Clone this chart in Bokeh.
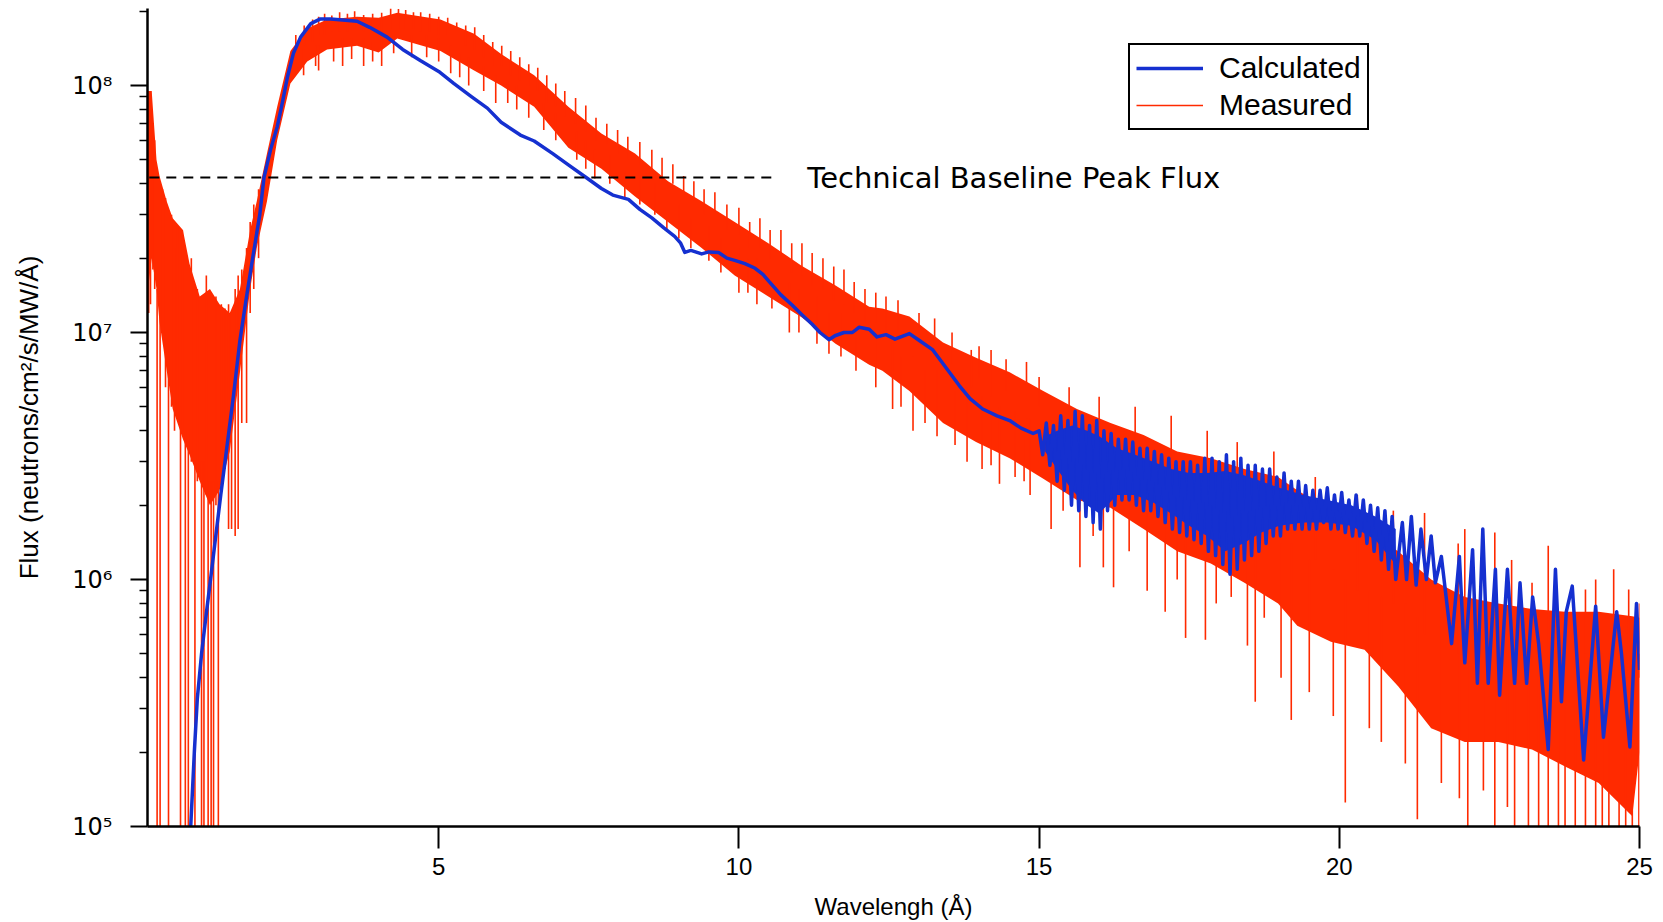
from bokeh.plotting import figure
from bokeh.models import (Range1d, FixedTicker, CustomJSTickFormatter, Legend,
                          LegendItem, ColumnDataSource)
from bokeh.core.properties import value
from bokeh.embed import file_html
from bokeh.resources import INLINE

# ---------------- data ----------------
# Calculated spectrum (blue)
calc_x = [0.87, 0.93, 0.98, 1.05, 1.13, 1.20, 1.28, 1.37, 1.47, 1.58, 1.69, 1.80, 1.91, 2.02, 2.09,
          2.20, 2.31, 2.40, 2.48, 2.58, 2.70, 2.87, 3.03, 3.20, 3.40, 3.64, 3.85, 4.14, 4.40, 4.70,
          5.00, 5.25, 5.55, 5.81, 6.04, 6.36, 6.59, 6.90, 7.16, 7.45, 7.71, 7.90, 8.16, 8.35, 8.55,
          8.75, 8.93, 9.03, 9.10, 9.20, 9.38, 9.50, 9.66, 9.80, 9.93, 10.10, 10.27, 10.40, 10.50,
          10.70, 10.89, 11.05, 11.22, 11.35, 11.50, 11.60, 11.75, 11.89, 12.00, 12.17, 12.30, 12.45,
          12.60, 12.84, 13.00, 13.23, 13.45, 13.67, 13.85, 14.06, 14.30, 14.51, 14.70, 14.90,
          15.00, 15.06, 15.12, 15.18, 15.24, 15.30, 15.36, 15.42, 15.48, 15.54, 15.60, 15.66, 15.72,
          15.78, 15.84, 15.90, 15.96, 16.02, 16.08, 16.14, 16.20, 16.26, 16.32, 16.38, 16.44, 16.50,
          16.56, 16.62, 16.68, 16.74, 16.80, 16.86, 16.92, 16.98, 17.04, 17.10, 17.16, 17.22, 17.28,
          17.34, 17.40, 17.46, 17.52, 17.58, 17.64, 17.70, 17.76, 17.82, 17.88, 17.94, 18.00, 18.06,
          18.12, 18.18, 18.24, 18.30, 18.36, 18.42, 18.48, 18.54, 18.60, 18.66, 18.72, 18.78, 18.84,
          18.90, 18.96, 19.02, 19.08, 19.14, 19.20, 19.26, 19.32, 19.38, 19.44, 19.50, 19.56, 19.62,
          19.68, 19.74, 19.80, 19.86, 19.92, 19.98, 20.04, 20.10, 20.16, 20.22, 20.28, 20.34, 20.40,
          20.46, 20.52, 20.58, 20.64, 20.70, 20.76, 20.82, 20.88, 20.94,
          21.05, 21.12, 21.20, 21.28, 21.36, 21.45, 21.53, 21.60, 21.70, 21.87, 22.00, 22.09, 22.22,
          22.30, 22.39, 22.48, 22.60, 22.67, 22.80, 22.92, 23.01, 23.12, 23.22, 23.32, 23.48, 23.60,
          23.70, 23.78, 23.88, 24.07, 24.27, 24.40, 24.62, 24.70, 24.84, 24.95, 25.00]
calc_y = [1.0e5, 2.0e5, 3.3e5, 5.0e5, 7.3e5, 1.0e6, 1.45e6, 2.2e6, 3.4e6, 5.5e6, 9.3e6, 1.4e7, 2.06e7, 3.0e7, 4.24e7,
          5.5e7, 6.8e7, 8.6e7, 1.08e8, 1.35e8, 1.57e8, 1.78e8, 1.86e8, 1.86e8, 1.84e8, 1.82e8, 1.72e8, 1.57e8, 1.40e8, 1.26e8,
          1.14e8, 1.02e8, 9.0e7, 8.1e7, 7.1e7, 6.3e7, 5.96e7, 5.3e7, 4.77e7, 4.25e7, 3.83e7, 3.6e7, 3.46e7, 3.15e7, 2.91e7,
          2.65e7, 2.45e7, 2.3e7, 2.11e7, 2.15e7, 2.08e7, 2.12e7, 2.11e7, 2.0e7, 1.96e7, 1.9e7, 1.82e7, 1.72e7, 1.61e7,
          1.42e7, 1.29e7, 1.18e7, 1.08e7, 1.0e7, 9.35e6, 9.7e6, 1.0e7, 1.0e7, 1.05e7, 1.03e7, 9.6e6, 9.8e6,
          9.4e6, 9.9e6, 9.3e6, 8.5e6, 7.2e6, 6.1e6, 5.4e6, 4.9e6, 4.6e6, 4.4e6, 4.1e6, 3.9e6,
          4.0e6, 3.2e6, 4.3e6, 2.9e6, 4.2e6, 2.5e6, 4.6e6, 2.3e6, 4.4e6, 2.0e6, 4.8e6, 1.9e6, 4.6e6,
          1.8e6, 4.2e6, 1.7e6, 4.4e6, 1.6e6, 4.0e6, 1.9e6, 3.9e6, 2.0e6, 3.7e6, 2.1e6, 3.7e6, 2.1e6,
          3.6e6, 2.0e6, 3.4e6, 1.9e6, 3.4e6, 1.9e6, 3.3e6, 1.8e6, 3.2e6, 1.7e6, 3.1e6, 1.6e6, 3.0e6,
          1.55e6, 3.0e6, 1.5e6, 3.0e6, 1.45e6, 2.9e6, 1.4e6, 3.1e6, 1.3e6, 3.1e6, 1.25e6, 3.0e6, 1.15e6,
          3.2e6, 1.05e6, 3.0e6, 1.1e6, 3.1e6, 1.2e6, 2.9e6, 1.25e6, 2.9e6, 1.3e6, 2.8e6, 1.4e6, 2.8e6,
          1.5e6, 2.6e6, 1.5e6, 2.7e6, 1.6e6, 2.5e6, 1.6e6, 2.5e6, 1.6e6, 2.4e6, 1.6e6, 2.3e6, 1.6e6,
          2.3e6, 1.7e6, 2.35e6, 1.6e6, 2.2e6, 1.6e6, 2.25e6, 1.55e6, 2.1e6, 1.5e6, 2.2e6, 1.5e6, 2.1e6,
          1.4e6, 2.0e6, 1.3e6, 1.95e6, 1.2e6, 1.9e6, 1.1e6, 1.8e6, 1.0e6,
          1.7e6, 1.0e6, 1.8e6, 9.5e5, 1.6e6, 1.0e6, 1.5e6, 9.7e5, 1.24e6, 5.5e5, 1.24e6, 4.6e5, 1.32e6,
          3.8e5, 1.6e6, 3.8e5, 1.1e6, 3.4e5, 1.1e6, 3.8e5, 9.7e5, 3.8e5, 8.5e5, 5.5e5, 2.05e5, 1.1e6,
          3.2e5, 7.4e5, 9.4e5, 1.86e5, 7.8e5, 2.3e5, 7.4e5, 5.0e5, 2.1e5, 8.0e5, 4.3e5]

# Calculated spectrum (blue): solid core of the noisy stretch between 15 and 21 Angstrom
calc_band_x = [15.10, 15.30, 15.55, 15.80, 16.00, 16.30, 16.60, 16.90, 17.20, 17.50, 17.80, 18.10,
               18.40, 18.70, 19.00, 19.40, 19.80, 20.20, 20.60, 20.94]
calc_band_hi = [3.8e6, 4.0e6, 4.2e6, 4.0e6, 3.8e6, 3.4e6, 3.2e6, 3.0e6, 2.8e6, 2.7e6, 2.7e6, 2.75e6,
                2.65e6, 2.5e6, 2.35e6, 2.2e6, 2.1e6, 2.0e6, 1.8e6, 1.6e6]
calc_band_lo = [3.3e6, 2.8e6, 2.3e6, 2.0e6, 1.85e6, 2.2e6, 2.2e6, 2.05e6, 1.85e6, 1.65e6, 1.5e6, 1.3e6,
                1.4e6, 1.55e6, 1.65e6, 1.7e6, 1.7e6, 1.65e6, 1.45e6, 1.15e6]

# Measured spectrum (red): envelope of the dense band
meas_x = [0.16, 0.22, 0.30, 0.35, 0.47, 0.57, 0.74, 0.85, 1.02, 1.19, 1.35, 1.52, 1.69, 1.86, 1.97,
          2.14, 2.31, 2.53, 2.81, 3.14, 3.64, 4.00, 4.31, 5.03, 5.59, 6.04, 6.59, 7.16, 7.71, 8.27,
          8.82, 9.38, 9.93, 10.49, 11.05, 11.61, 12.17, 12.39, 12.84, 13.40, 13.95, 14.51, 15.07,
          15.63, 16.19, 16.74, 17.30, 17.86, 18.42, 18.98, 19.30, 19.86, 20.42, 20.98, 21.53, 22.09,
          22.65, 23.21, 23.76, 24.32, 24.88, 25.00]
meas_hi = [9.5e7, 9.5e7, 5.0e7, 4.3e7, 3.4e7, 2.9e7, 2.6e7, 1.9e7, 1.4e7, 1.5e7, 1.3e7, 1.2e7, 1.5e7, 2.6e7, 3.4e7,
           5.3e7, 8.2e7, 1.38e8, 1.7e8, 1.85e8, 1.9e8, 1.88e8, 1.97e8, 1.85e8, 1.62e8, 1.34e8, 1.1e8, 8.2e7, 6.4e7, 5.3e7,
           4.1e7, 3.4e7, 2.8e7, 2.3e7, 1.86e7, 1.55e7, 1.27e7, 1.25e7, 1.16e7, 9.1e6, 7.9e6, 6.9e6, 5.8e6,
           4.9e6, 4.3e6, 3.85e6, 3.3e6, 3.1e6, 2.8e6, 2.6e6, 2.3e6, 1.9e6, 1.6e6, 1.3e6, 1.0e6, 8.5e5,
           8.0e5, 7.6e5, 7.4e5, 7.4e5, 7.1e5, 7.0e5]
meas_lo = [1.5e7, 2.0e7, 1.5e7, 1.1e7, 7.0e6, 4.9e6, 3.7e6, 3.2e6, 2.5e6, 2.0e6, 2.3e6, 3.3e6, 6.9e6, 1.5e7, 2.2e7,
           3.4e7, 6.0e7, 1.02e8, 1.25e8, 1.40e8, 1.45e8, 1.36e8, 1.55e8, 1.38e8, 1.15e8, 1.0e8, 8.2e7, 5.6e7, 4.6e7, 3.55e7,
           2.8e7, 2.2e7, 1.7e7, 1.4e7, 1.15e7, 9.0e6, 7.4e6, 7.0e6, 5.8e6, 4.3e6, 3.6e6, 3.1e6, 2.56e6,
           2.1e6, 1.95e6, 1.6e6, 1.3e6, 1.16e6, 9.7e5, 8.0e5, 6.5e5, 5.6e5, 5.2e5, 3.7e5, 2.5e5, 2.2e5,
           2.2e5, 2.05e5, 1.75e5, 1.5e5, 1.1e5, 2.0e5]

# Measured spectrum (red): individual spikes reaching outside the band (x, low end, high end)
spk_low_x = [0.17, 0.20, 0.24, 0.27, 0.31, 0.36, 0.40, 0.45, 0.50, 0.55, 0.60, 0.65, 0.70, 0.73, 0.78,
             0.83, 0.88, 0.94, 0.98, 1.05, 1.09, 1.13, 1.16, 1.21, 1.25, 1.29, 1.33, 1.38, 1.44, 1.50,
             1.55, 1.61, 1.66, 1.72, 1.80, 1.86, 1.92, 2.00]
spk_low_lo = [1.2e7, 1.3e7, 1.8e7, 1.5e7, 1.0e5, 1.0e5, 1.0e7, 6.0e6, 1.0e5, 5.0e6, 4.0e6, 4.5e6, 1.0e5, 4.0e6, 1.0e5,
              1.0e5, 3.0e6, 1.0e5, 2.5e6, 1.0e5, 1.0e5, 2.2e6, 1.0e5, 1.0e5, 1.0e5, 2.0e6, 1.0e5, 2.5e6, 2.8e6, 1.6e6,
              1.6e6, 1.5e6, 1.6e6, 4.3e6, 4.3e6, 1.2e7, 1.5e7, 2.0e7]
spk_low_hi = [9.0e7, 9.5e7, 7.0e7, 6.0e7, 1.5e7, 1.2e7, 3.8e7, 3.5e7, 8.0e6, 3.0e7, 2.2e7, 2.7e7, 5.0e6, 2.6e7, 4.0e6,
              4.0e6, 2.0e7, 3.0e6, 1.5e7, 3.0e6, 3.0e6, 1.7e7, 2.5e6, 2.5e6, 2.5e6, 1.4e7, 2.5e6, 1.3e7, 1.25e7, 1.3e7,
              1.2e7, 1.5e7, 1.7e7, 1.8e7, 2.2e7, 2.8e7, 3.3e7, 3.8e7]

spk_mid_x = [2.62, 2.90, 3.10, 3.35, 3.60, 3.90, 4.20, 4.45, 4.70, 5.00, 5.30, 5.60, 5.90, 6.20, 6.50,
             6.80, 7.10, 7.45, 7.80, 8.15, 8.55, 8.90, 9.25, 9.60, 10.00, 10.35, 10.70, 11.05, 11.40,
             11.75, 12.10, 12.45,
             2.75, 3.00, 3.40, 3.75, 4.05, 4.55, 5.20, 5.50, 5.95, 6.30, 6.75, 7.30, 7.60, 8.10, 8.60,
             9.00, 9.50, 10.00, 10.30, 10.84, 11.30, 11.70, 12.28, 12.56]
spk_mid_lo = [1.3e8, 1.5e8, 1.6e8, 1.65e8, 1.7e8, 1.7e8, 1.7e8, 1.7e8, 1.65e8, 1.6e8, 1.5e8, 1.4e8, 1.2e8, 1.1e8, 1.0e8,
              8.5e7, 7.5e7, 6.5e7, 5.8e7, 5.0e7, 4.5e7, 4.0e7, 3.4e7, 3.0e7, 2.5e7, 2.2e7, 2.0e7, 1.7e7, 1.5e7,
              1.3e7, 1.1e7, 1.0e7,
              1.1e8, 1.15e8, 1.2e8, 1.2e8, 1.2e8, 1.3e8, 1.12e8, 1.0e8, 8.5e7, 8.0e7, 6.6e7, 5.0e7, 4.2e7, 3.5e7, 3.0e7,
              2.4e7, 1.95e7, 1.45e7, 1.3e7, 1.0e7, 9.0e6, 8.0e6, 6.0e6, 4.9e6]
spk_mid_hi = [1.6e8, 1.85e8, 1.95e8, 1.98e8, 2.0e8, 1.95e8, 2.05e8, 2.02e8, 1.98e8, 1.9e8, 1.8e8, 1.72e8, 1.5e8, 1.38e8, 1.22e8,
              1.1e8, 9.5e7, 8.3e7, 7.0e7, 6.2e7, 5.5e7, 4.8e7, 4.1e7, 3.7e7, 3.2e7, 2.9e7, 2.6e7, 2.3e7, 2.0e7,
              1.8e7, 1.5e7, 1.4e7,
              1.4e8, 1.45e8, 1.55e8, 1.55e8, 1.55e8, 1.6e8, 1.45e8, 1.3e8, 1.1e8, 1.0e8, 8.5e7, 6.5e7, 5.5e7, 4.5e7, 4.0e7,
              3.3e7, 2.7e7, 2.2e7, 2.0e7, 1.6e7, 1.4e7, 1.2e7, 1.0e7, 9.0e6]

spk_fringe_x = [2.76, 3.00, 3.22, 3.48, 3.75, 4.05, 4.33, 4.58, 4.85, 5.15, 5.45, 5.75, 6.05, 6.35, 6.65,
                6.95, 7.28, 7.62, 7.98, 8.35, 8.72, 9.08, 9.42, 9.80, 10.18, 10.52, 10.88, 11.22, 11.58,
                11.92, 12.28, 12.65, 13.00, 13.55, 14.00, 14.45, 15.00,
                2.95, 3.25, 3.55, 3.90, 4.25, 4.80, 5.00, 5.35, 5.75, 6.15, 6.50, 6.95, 7.45, 7.85, 8.35,
                8.80, 9.20, 9.70, 10.15, 10.55, 11.00, 11.50, 11.95, 12.70, 13.10, 13.60, 14.20, 14.75]
spk_fringe_lo = [1.45e8, 1.6e8, 1.65e8, 1.65e8, 1.65e8, 1.65e8, 1.7e8, 1.7e8, 1.65e8, 1.6e8, 1.45e8, 1.3e8, 1.2e8, 1.05e8, 9.5e7,
                 8.2e7, 7.0e7, 6.0e7, 5.3e7, 4.8e7, 4.0e7, 3.5e7, 3.0e7, 2.6e7, 2.2e7, 2.0e7, 1.75e7, 1.55e7, 1.35e7,
                 1.2e7, 1.1e7, 1.0e7, 9.0e6, 7.5e6, 6.5e6, 5.8e6, 5.0e6,
                 1.2e8, 1.25e8, 1.28e8, 1.25e8, 1.35e8, 1.3e8, 1.25e8, 1.08e8, 9.5e7, 8.5e7, 7.4e7, 6.0e7, 4.6e7, 4.0e7, 3.3e7,
                 2.6e7, 2.2e7, 1.75e7, 1.45e7, 1.25e7, 1.0e7, 8.2e6, 7.0e6, 5.0e6, 4.3e6, 3.5e6, 2.9e6, 2.5e6]
spk_fringe_hi = [1.75e8, 1.9e8, 1.92e8, 1.95e8, 1.93e8, 1.97e8, 2.04e8, 1.98e8, 1.95e8, 1.88e8, 1.75e8, 1.6e8, 1.45e8, 1.3e8, 1.18e8,
                 1.02e8, 8.9e7, 7.4e7, 6.6e7, 5.9e7, 5.1e7, 4.3e7, 3.8e7, 3.3e7, 2.8e7, 2.6e7, 2.3e7, 2.1e7, 1.85e7,
                 1.6e7, 1.45e7, 1.35e7, 1.2e7, 1.0e7, 8.8e6, 7.8e6, 6.6e6,
                 1.45e8, 1.5e8, 1.55e8, 1.5e8, 1.6e8, 1.6e8, 1.55e8, 1.35e8, 1.2e8, 1.05e8, 9.2e7, 7.8e7, 6.0e7, 5.2e7, 4.3e7,
                 3.4e7, 2.9e7, 2.4e7, 2.0e7, 1.75e7, 1.5e7, 1.2e7, 1.05e7, 8.0e6, 7.0e6, 5.8e6, 4.8e6, 4.2e6]

spk_tail_x = [13.26, 13.87, 14.20, 14.79, 15.50, 16.00, 16.60, 17.20, 17.80, 18.30, 18.91, 19.60, 20.30,
              20.90, 21.42, 21.98, 22.09, 22.59, 22.87, 23.21, 23.48, 24.10, 24.27, 24.57, 24.82, 25.00,
              12.90, 13.30, 13.80, 14.05, 14.34, 14.60, 14.85, 15.20, 15.40, 15.68, 15.90, 16.07, 16.24,
              16.50, 16.80, 17.10, 17.30, 17.44, 17.77, 17.95, 18.20, 18.47, 18.60, 18.75, 19.03, 19.20,
              19.50, 19.90, 20.10, 20.50, 20.70, 21.10, 21.30, 21.70, 22.00, 22.14, 22.40, 22.59, 22.80,
              22.92, 23.15, 23.32, 23.48, 23.65, 23.76, 23.93, 24.10, 24.27, 24.38, 24.49, 24.66, 24.77,
              24.88, 24.99]
spk_tail_lo = [8.0e6, 6.0e6, 5.5e6, 4.5e6, 3.5e6, 3.0e6, 2.6e6, 2.2e6, 2.0e6, 1.8e6, 1.6e6, 1.2e6, 9.0e5,
               8.0e5, 6.0e5, 5.0e5, 5.0e5, 5.0e5, 5.0e5, 4.5e5, 4.5e5, 4.0e5, 4.0e5, 4.0e5, 4.0e5, 4.0e5,
               4.0e6, 3.8e6, 3.0e6, 2.8e6, 2.44e6, 2.6e6, 2.2e6, 1.6e6, 1.9e6, 1.12e6, 1.5e6, 1.12e6, 9.3e5,
               1.3e6, 9.0e5, 7.4e5, 1.0e6, 5.8e5, 5.7e5, 8.0e5, 8.5e5, 5.4e5, 3.2e5, 7.0e5, 4.0e5, 2.7e5,
               3.5e5, 2.8e5, 1.25e5, 2.5e5, 2.2e5, 1.8e5, 1.07e5, 1.5e5, 1.3e5, 1.0e5, 1.4e5, 1.0e5, 1.2e5,
               1.0e5, 1.0e5, 1.0e5, 1.0e5, 1.0e5, 1.0e5, 1.0e5, 1.0e5, 1.0e5, 1.0e5, 1.0e5, 1.0e5, 1.0e5,
               1.0e5, 1.0e5]
spk_tail_hi = [1.14e7, 8.5e6, 8.5e6, 7.6e6, 6.0e6, 5.5e6, 5.0e6, 4.6e6, 4.0e6, 3.6e6, 3.3e6, 2.6e6, 2.2e6,
               1.9e6, 1.86e6, 1.4e6, 1.6e6, 1.55e6, 1.2e6, 9.7e5, 1.37e6, 9.1e5, 1.0e6, 1.1e6, 9.1e5, 8.0e5,
               8.0e6, 7.0e6, 6.0e6, 5.5e6, 5.0e6, 4.8e6, 4.5e6, 4.0e6, 3.8e6, 3.5e6, 3.2e6, 3.0e6, 3.0e6,
               2.8e6, 2.6e6, 2.4e6, 2.2e6, 2.2e6, 2.0e6, 1.9e6, 1.8e6, 1.7e6, 1.6e6, 1.5e6, 1.4e6, 1.4e6,
               1.2e6, 1.1e6, 1.0e6, 9.0e5, 8.5e5, 8.0e5, 7.0e5, 7.0e5, 6.0e5, 6.0e5, 6.0e5, 6.0e5, 6.0e5,
               6.0e5, 5.5e5, 5.5e5, 5.5e5, 5.0e5, 5.0e5, 5.0e5, 5.0e5, 5.0e5, 5.0e5, 5.0e5, 5.0e5, 5.0e5,
               5.0e5, 5.0e5]

# Technical baseline peak flux reference line
baseline_flux = 4.24e7
baseline_x = [0.18, 10.64]
annot_x = [11.14]
annot_text = ["Technical Baseline Peak Flux"]

y_major = [1e5, 1e6, 1e7, 1e8]
y_minor = [m * 10 ** e for e in range(5, 9) for m in range(2, 10) if m * 10 ** e < 2.1e8]
x_major = [5, 10, 15, 20, 25]

series_names = ["Calculated", "Measured"]
RED = "#ff2a00"
BLUE = "#1530d0"

# ---------------- figure ----------------
p = figure(width=1663, height=922, y_axis_type="log",
           x_range=Range1d(0.15, 25.0), y_range=Range1d(1e5, 2.05e8),
           output_backend="svg", toolbar_location=None,
           min_border_left=147, min_border_right=24, min_border_top=8, min_border_bottom=94)
p.grid.visible = False
p.outline_line_color = None
p.background_fill_color = "white"
p.border_fill_color = "white"

# measured band + spikes
band = ColumnDataSource(dict(x=meas_x, lo=meas_lo, hi=meas_hi))
p.varea(x="x", y1="lo", y2="hi", source=band, fill_color=RED, fill_alpha=1.0)
sx = spk_low_x + spk_mid_x + spk_fringe_x + spk_tail_x
slo = spk_low_lo + spk_mid_lo + spk_fringe_lo + spk_tail_lo
shi = spk_low_hi + spk_mid_hi + spk_fringe_hi + spk_tail_hi
meas_r = p.segment(x0=sx, y0=slo, x1=sx, y1=shi, line_color=RED, line_width=1.6)

# calculated
cband = ColumnDataSource(dict(x=calc_band_x, lo=calc_band_lo, hi=calc_band_hi))
p.varea(x="x", y1="lo", y2="hi", source=cband, fill_color=BLUE, fill_alpha=1.0)
calc_r = p.line(calc_x, calc_y, line_color=BLUE, line_width=3.5, line_join="round")

# baseline
p.line(baseline_x, [baseline_flux] * len(baseline_x), line_color="black",
       line_width=2, line_dash="10 7")
p.text(x=annot_x, y=[baseline_flux] * len(annot_x), text=annot_text,
       text_font=value("DejaVu Sans"), text_font_size="29px", text_color="black",
       text_baseline="middle", text_align="left")

# axes
xa = p.xaxis[0]
xa.ticker = FixedTicker(ticks=x_major, minor_ticks=[])
xa.axis_label = "Wavelengh (Å)"
xa.axis_label_text_font = "Liberation Sans"
xa.axis_label_text_font_size = "24px"
xa.axis_label_text_font_style = "normal"
xa.axis_label_standoff = 15
xa.major_label_text_font = "Liberation Sans"
xa.major_label_text_font_size = "24px"
xa.major_label_standoff = 9
xa.major_tick_out = 22
xa.major_tick_in = 0
xa.major_tick_line_width = 2
xa.axis_line_width = 2.5
xa.axis_line_color = "black"
xa.major_label_text_color = "black"
xa.axis_label_text_color = "black"

ya = p.yaxis[0]
ya.ticker = FixedTicker(ticks=y_major, minor_ticks=y_minor)
ya.formatter = CustomJSTickFormatter(code="""
const e = Math.round(Math.log10(tick));
const sup = {0:'\u2070',1:'\u00b9',2:'\u00b2',3:'\u00b3',4:'\u2074',5:'\u2075',6:'\u2076',7:'\u2077',8:'\u2078',9:'\u2079'};
return '10' + sup[e];
""")
ya.axis_label = "Flux (neutrons/cm²/s/MW/Å)"
ya.axis_label_text_font = "Liberation Sans"
ya.axis_label_text_font_size = "26px"
ya.axis_label_text_font_style = "normal"
ya.axis_label_standoff = 25
ya.major_label_text_font = "DejaVu Sans"
ya.major_label_text_font_size = "24px"
ya.major_label_standoff = 18
ya.major_tick_out = 17
ya.major_tick_in = 0
ya.minor_tick_out = 8
ya.minor_tick_in = 0
ya.major_tick_line_width = 2
ya.minor_tick_line_width = 1.5
ya.axis_line_width = 2.5
ya.axis_line_color = "black"
ya.major_label_text_color = "black"
ya.axis_label_text_color = "black"

# legend
legend = Legend(items=[LegendItem(label=series_names[0], renderers=[calc_r]),
                       LegendItem(label=series_names[1], renderers=[meas_r])],
                location=(981, 696), margin=0, padding=6, spacing=3,
                glyph_width=67, glyph_height=34, label_height=34, label_standoff=16,
                label_text_font="Liberation Sans", label_text_font_size="30px",
                label_text_color="black",
                border_line_color="black", border_line_width=2, border_line_alpha=1.0,
                background_fill_color="white", background_fill_alpha=1.0)
p.add_layout(legend)

open("out.html", "w").write(file_html(p, INLINE))
